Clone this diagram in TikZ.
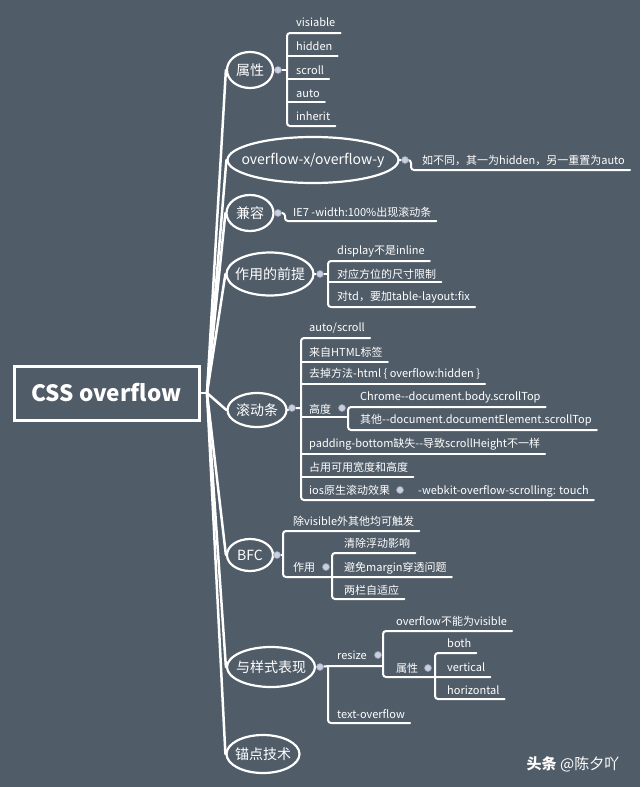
\documentclass[tikz,border=0pt]{standalone}
\usepackage{fontspec}
\setmainfont{Noto Sans CJK SC}
\usetikzlibrary{shapes.geometric}
\definecolor{bg}{RGB}{80,92,104}
\definecolor{dotc}{RGB}{200,207,228}
\pgfdeclarelayer{back}
\pgfsetlayers{back,main}
\newcommand\tbox[1]{\makebox[0pt][c]{#1}}
\begin{document}
\begin{tikzpicture}[x=1pt,y=-1pt,
  topic/.style={ellipse, draw=white, line width=2.2pt, fill=bg, text=white, inner sep=0pt, font=\fontsize{14}{16}\selectfont},
  sub/.style={anchor=base west, inner xsep=5pt, inner ysep=0pt, xshift=-5pt, yshift=-4pt, text=white, font=\fontsize{11}{13}\selectfont},
  knob/.style={circle, fill=dotc, draw=dotc!75!black, line width=0.6pt, minimum size=7pt, inner sep=0pt},
  conn/.style={draw=white, line width=2.5pt, line cap=round},
  br/.style={draw=white, line width=2pt, rounded corners=3pt, line cap=round, line join=round},
]
\useasboundingbox (0,0) rectangle (640,787);
\begin{pgfonlayer}{back}
\fill[bg] (0,0) rectangle (640,787);
\end{pgfonlayer}

% root
\node[draw=white, line width=3pt, minimum width=185pt, minimum height=54pt, inner sep=0pt, text=white, font=\bfseries\fontsize{22.5}{26}\selectfont] (root) at (106.5,393) {CSS overflow};
\coordinate (hub) at (207,393);

% main topics
\node[topic, minimum width=46pt, minimum height=36pt] (p1) at (250,70) {\tbox{属性}};
\node[topic, minimum width=171pt, minimum height=46pt] (p2) at (313,160) {\tbox{overflow-x/overflow-y}};
\node[topic, minimum width=47pt, minimum height=36pt] (p3) at (250,213) {\tbox{兼容}};
\node[topic, minimum width=87pt, minimum height=43pt] (p4) at (270,274) {\tbox{作用的前提}};
\node[topic, minimum width=59pt, minimum height=34pt] (p5) at (257,410) {\tbox{滚动条}};
\node[topic, minimum width=46pt, minimum height=32pt] (p6) at (250,555) {\tbox{BFC}};
\node[topic, minimum width=88pt, minimum height=40pt] (p7) at (271,667) {\tbox{与样式表现}};
\node[topic, minimum width=73pt, minimum height=38pt] (p8) at (263,754) {\tbox{锚点技术}};

\begin{pgfonlayer}{back}
\draw[conn] (root.east) -- (hub);
\foreach \p in {p1,p2,p3,p4,p5,p6,p7,p8} \draw[conn] (hub) -- (\p.west);
\end{pgfonlayer}

% knobs
\node[knob] (d1) at (278,70) {};
\node[knob] (d2) at (405,160) {};
\node[knob] (d3) at (278,213) {};
\node[knob] (d4) at (320,274) {};
\node[knob] (d5) at (292,408) {};
\node[knob] (d6) at (277,555) {};
\node[knob] (d7) at (320,667) {};
\node[knob] (d5a) at (342,408) {};
\node[knob] (d5g) at (400,490) {};
\node[knob] (d6a) at (326,567) {};
\node[knob] (d7a) at (378,655) {};
\node[knob] (d7b) at (428,668) {};

% 属性
\node[sub] (a1) at (296,23) {visiable};
\node[sub] (a2) at (296,46) {hidden};
\node[sub] (a3) at (296,70) {scroll};
\node[sub] (a4) at (296,93) {auto};
\node[sub] (a5) at (296,116) {inherit};
\coordinate (j1) at (287,70);
\begin{pgfonlayer}{back}
\draw[br] (p1.east) -- (d1) -- (j1);
\draw[br] (a1.east |- 0,33) -- (287,33) -- (287,126) -- (a5.east |- 0,126);
\draw[br] (287,56) -- (a2.east |- 0,56);
\draw[br] (287,79) -- (a3.east |- 0,79);
\draw[br] (287,102) -- (a4.east |- 0,102);
\end{pgfonlayer}

% overflow-x
\node[sub] (b1) at (422,160) {如不同，其一为hidden，另一重置为auto};
\begin{pgfonlayer}{back}
\draw[br] (p2.east) -- (d2) -- (411,160) -- (411,170) -- (b1.east |- 0,170);
\end{pgfonlayer}

% 兼容
\node[sub] (c1) at (293,212) {IE7 -width:100\%出现滚动条};
\begin{pgfonlayer}{back}
\draw[br] (p3.east) -- (d3) -- (285,213) -- (285,221) -- (c1.east |- 0,221);
\end{pgfonlayer}

% 作用的前提
\node[sub] (e1) at (337,250) {display不是inline};
\node[sub] (e2) at (337,274) {对应方位的尺寸限制};
\node[sub] (e3) at (337,296) {对td，要加table-layout:fix};
\coordinate (j4) at (328,274);
\begin{pgfonlayer}{back}
\draw[br] (p4.east) -- (d4) -- (j4);
\draw[br] (e1.east |- 0,261) -- (328,261) -- (328,307) -- (e3.east |- 0,307);
\draw[br] (328,282) -- (e2.east |- 0,282);
\end{pgfonlayer}

% 滚动条
\node[sub] (f1) at (309,327) {auto/scroll};
\node[sub] (f2) at (309,352) {来自HTML标签};
\node[sub] (f3) at (309,373) {去掉方法-html \{ overflow:hidden \}};
\node[sub] (f4) at (309,409) {高度};
\node[sub] (f4a) at (360,396) {Chrome-{}-document.body.scrollTop};
\node[sub] (f4b) at (360,419) {其他-{}-document.documentElement.scrollTop};
\node[sub] (f5) at (309,443) {padding-bottom缺失-{}-导致scrollHeight不一样};
\node[sub] (f6) at (309,467) {占用可用宽度和高度};
\node[sub] (f7) at (309,490) {ios原生滚动效果};
\node[sub] (f7a) at (418,490) {-webkit-overflow-scrolling: touch};
\coordinate (j5) at (301,408);
\begin{pgfonlayer}{back}
\draw[br] (p5.east) -- (d5) -- (j5);
\draw[br] (f1.east |- 0,338) -- (301,338) -- (301,500) -- (f7a.east |- 0,500);
\draw[br] (301,362) -- (f2.east |- 0,362);
\draw[br] (301,384) -- (f3.east |- 0,384);
\draw[br] (301,417) -- (348,417);
\draw[br] (f4a.east |- 0,407) -- (348,407) -- (348,430) -- (f4b.east |- 0,430);
\draw[br] (301,454) -- (f5.east |- 0,454);
\draw[br] (301,477) -- (f6.east |- 0,477);
\end{pgfonlayer}

% BFC
\node[sub] (g1) at (293,521) {除visible外其他均可触发};
\node[sub] (g2) at (293,567) {作用};
\node[sub] (g2a) at (344,543) {清除浮动影响};
\node[sub] (g2b) at (344,567) {避免margin穿透问题};
\node[sub] (g2c) at (344,590) {两栏自适应};
\coordinate (j6) at (283,555);
\begin{pgfonlayer}{back}
\draw[br] (p6.east) -- (d6) -- (j6);
\draw[br] (g1.east |- 0,531) -- (283,531) -- (283,577) -- (g2b.east |- 0,577);
\draw[br] (g2a.east |- 0,553) -- (332,553) -- (332,599) -- (g2c.east |- 0,599);
\end{pgfonlayer}

% 与样式表现
\node[sub] (h1) at (337,655) {resize};
\node[sub] (h1a) at (396,621) {overflow不能为visible};
\node[sub] (h1b) at (396,668) {属性};
\node[sub] (h1ba) at (447,643) {both};
\node[sub] (h1bb) at (447,667) {vertical};
\node[sub] (h1bc) at (447,690) {horizontal};
\node[sub] (h2) at (337,714) {text-overflow};
\coordinate (j7) at (383,666);
\begin{pgfonlayer}{back}
\draw[br] (p7.east) -- (d7) -- (328,666) -- (j7);
\draw[br] (328,666) -- (328,723) -- (h2.east |- 0,723);
\draw[br] (h1a.east |- 0,631) -- (383,631) -- (383,677) -- (h1bb.east |- 0,677);
\draw[br] (h1ba.east |- 0,653) -- (435,653) -- (435,699) -- (h1bc.east |- 0,699);
\end{pgfonlayer}

% watermark
\node[text=white, inner sep=0pt, font=\fontsize{15}{17}\selectfont] (wm) at (573,764) {\bfseries 头条\mdseries{} @陈夕吖};
\end{tikzpicture}
\end{document}
